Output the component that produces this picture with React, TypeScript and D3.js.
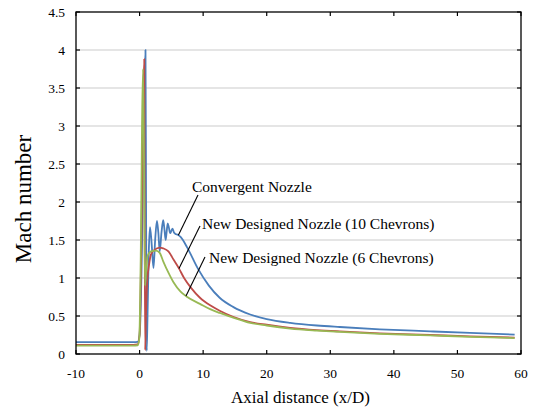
// Mach number along the jet axis for the three nozzle designs.
// Drawn with D3 into an svg through a ref.

import React, { useRef, useEffect } from "react";
import * as d3 from "d3";

const width = 536;
const height = 411;
const margin = { top: 12, right: 15, bottom: 57, left: 76 };

const xTicks = [-10, 0, 10, 20, 30, 40, 50, 60];
const yTicks = [0, 0.5, 1, 1.5, 2, 2.5, 3, 3.5, 4, 4.5];

// Convergent nozzle (blue)
const convergentX = [
  -10, -5, -1, -0.3, 0, 0.4, 0.7, 0.93, 1.02, 1.12, 1.25, 1.45, 1.64, 1.9,
  2.19, 2.45, 2.73, 2.95, 3.17, 3.45, 3.72, 3.9, 4.1, 4.25, 4.43, 4.62, 4.81,
  5.0, 5.19, 5.4, 5.63, 6.0, 6.45, 7.5, 9.2, 10.9, 12.6, 14.7, 17.4, 20, 23.7,
  27.9, 31.5, 37.8, 45.7, 52, 59,
];
const convergentMach = [
  0.155, 0.155, 0.155, 0.16, 0.25, 1.5, 3.3, 4.0, 2.0, 0.04, 0.5, 1.35, 1.67,
  1.45, 1.13, 1.5, 1.75, 1.6, 1.35, 1.6, 1.76, 1.65, 1.5, 1.6, 1.72, 1.66,
  1.59, 1.62, 1.65, 1.6, 1.58, 1.57, 1.54, 1.4, 1.12, 0.9, 0.74, 0.62, 0.52,
  0.46, 0.41, 0.375, 0.355, 0.325, 0.298, 0.277, 0.255,
];

// New designed nozzle, 10 chevrons (red)
const chevron10X = [
  -10, -1, -0.3, 0, 0.3, 0.55, 0.74, 0.8, 0.88, 1.0, 1.2, 1.5, 1.8, 2.35,
  3.17, 3.72, 4.54, 5.36, 6.17, 7.0, 8.1, 9.5, 11.1, 12.6, 14.7, 17.4, 20,
  23.7, 27.9, 31.5, 37.8, 45.7, 52, 59,
];
const chevron10Mach = [
  0.12, 0.12, 0.125, 0.25, 1.6, 3.3, 3.88, 2.0, 0.05, 0.5, 0.95, 1.18, 1.31,
  1.37, 1.4, 1.39, 1.35, 1.24, 1.13, 1.0, 0.87, 0.74, 0.64, 0.57, 0.49, 0.42,
  0.385, 0.345, 0.315, 0.297, 0.272, 0.25, 0.232, 0.215,
];

// New designed nozzle, 6 chevrons (green)
const chevron6X = [
  -10, -1, -0.3, -0.05, 0.2, 0.4, 0.55, 0.7, 0.85, 1.0, 1.26, 1.8, 2.6, 3.17,
  3.72, 4.54, 5.36, 6.45, 7.5, 9.5, 11.1, 12.6, 14.7, 17.4, 20, 23.7, 27.9,
  31.5, 37.8, 45.7, 52, 59,
];
const chevron6Mach = [
  0.11, 0.11, 0.115, 0.2, 1.4, 3.1, 3.75, 2.5, 0.9, 1.05, 1.29, 1.35, 1.36,
  1.33, 1.22, 1.07, 0.94, 0.82, 0.75, 0.66, 0.59, 0.54, 0.48, 0.41, 0.375,
  0.335, 0.308, 0.29, 0.266, 0.245, 0.226, 0.21,
];

const seriesNames = [
  "Convergent Nozzle",
  "New Designed Nozzle (10 Chevrons)",
  "New Designed Nozzle (6 Chevrons)",
];
// where each leader line touches its curve (x/D)
const labelTargets = [6.1, 6.2, 7.3];

const FONT = "'Liberation Serif', 'Times New Roman', serif";

const App = () => {
  const svgRef = useRef<SVGSVGElement>(null);

  useEffect(() => {
    const svg = d3.select(svgRef.current);
    svg.selectAll("*").remove();

    const x = d3
      .scaleLinear()
      .domain([-10, 60])
      .range([margin.left, width - margin.right]);
    const y = d3
      .scaleLinear()
      .domain([0, 4.5])
      .range([height - margin.bottom, margin.top]);

    const [x0, x1] = x.range();
    const [y0, y1] = y.range();

    svg.append("rect").attr("width", width).attr("height", height).attr("fill", "#fff");

    // horizontal gridlines
    svg
      .append("g")
      .selectAll("line")
      .data(yTicks.slice(1, -1))
      .enter()
      .append("line")
      .attr("x1", x0)
      .attr("x2", x1)
      .attr("y1", (d) => y(d))
      .attr("y2", (d) => y(d))
      .attr("stroke", "#cccccc")
      .attr("stroke-width", 1.1);

    // curves
    const series = [
      { xs: convergentX, ms: convergentMach, color: "#4a7ebb" },
      { xs: chevron10X, ms: chevron10Mach, color: "#be4b48" },
      { xs: chevron6X, ms: chevron6Mach, color: "#98b954" },
    ];
    const line = d3.line().curve(d3.curveMonotoneX);

    series.forEach((s) => {
      const pts: [number, number][] = s.xs.map((v, i) => [x(v), y(s.ms[i])]);
      svg
        .append("path")
        .attr("d", line(pts))
        .attr("fill", "none")
        .attr("stroke", s.color)
        .attr("stroke-width", 1.8)
        .attr("stroke-linejoin", "round");
    });

    // frame
    svg
      .append("rect")
      .attr("x", x0)
      .attr("y", y1)
      .attr("width", x1 - x0)
      .attr("height", y0 - y1)
      .attr("fill", "none")
      .attr("stroke", "#000")
      .attr("stroke-width", 1.3);

    // inside ticks on all four sides
    const tk = 4;
    const ticks = svg.append("g").attr("stroke", "#000").attr("stroke-width", 1.2);
    xTicks.forEach((t) => {
      ticks.append("line").attr("x1", x(t)).attr("x2", x(t)).attr("y1", y0).attr("y2", y0 - tk);
      ticks.append("line").attr("x1", x(t)).attr("x2", x(t)).attr("y1", y1).attr("y2", y1 + tk);
    });
    yTicks.forEach((t) => {
      ticks.append("line").attr("x1", x0).attr("x2", x0 + tk).attr("y1", y(t)).attr("y2", y(t));
      ticks.append("line").attr("x1", x1).attr("x2", x1 - tk).attr("y1", y(t)).attr("y2", y(t));
    });

    // tick labels
    svg
      .append("g")
      .selectAll("text")
      .data(xTicks)
      .enter()
      .append("text")
      .attr("x", (d) => x(d))
      .attr("y", y0 + 24)
      .attr("text-anchor", "middle")
      .style("font-family", FONT)
      .style("font-size", "13.5px")
      .text((d) => d);

    svg
      .append("g")
      .selectAll("text")
      .data(yTicks)
      .enter()
      .append("text")
      .attr("x", x0 - 11)
      .attr("y", (d) => y(d) + 4.5)
      .attr("text-anchor", "end")
      .style("font-family", FONT)
      .style("font-size", "13.5px")
      .text((d) => d);

    // axis titles
    svg
      .append("text")
      .attr("x", (x0 + x1) / 2 + 2)
      .attr("y", 403)
      .attr("text-anchor", "middle")
      .style("font-family", FONT)
      .style("font-size", "17px")
      .text("Axial distance (x/D)");

    svg
      .append("text")
      .attr("transform", `translate(31,${(y0 + y1) / 2 + 16}) rotate(-90)`)
      .attr("text-anchor", "middle")
      .style("font-family", FONT)
      .style("font-size", "23px")
      .text("Mach number");

    // labels with leader lines
    const labelPos = [
      { tx: 192, ty: 192, lx: 198, ly: 195 },
      { tx: 202, ty: 229, lx: 200, ly: 226 },
      { tx: 209, ty: 263, lx: 205, ly: 257 },
    ];
    seriesNames.forEach((name, i) => {
      const s = series[i];
      const tx = labelTargets[i];
      const m = d3.scaleLinear().domain(s.xs).range(s.ms)(tx);
      const p = labelPos[i];
      svg
        .append("line")
        .attr("x1", p.lx)
        .attr("y1", p.ly)
        .attr("x2", x(tx))
        .attr("y2", y(m))
        .attr("stroke", "#000")
        .attr("stroke-width", 1.1);
      svg
        .append("text")
        .attr("x", p.tx)
        .attr("y", p.ty)
        .style("font-family", FONT)
        .style("font-size", "15.5px")
        .text(name);
    });
  }, []);

  return (
    <svg
      ref={svgRef}
      width={width}
      height={height}
      style={{ position: "absolute", left: 0, top: 0 }}
    ></svg>
  );
};

export default App;
